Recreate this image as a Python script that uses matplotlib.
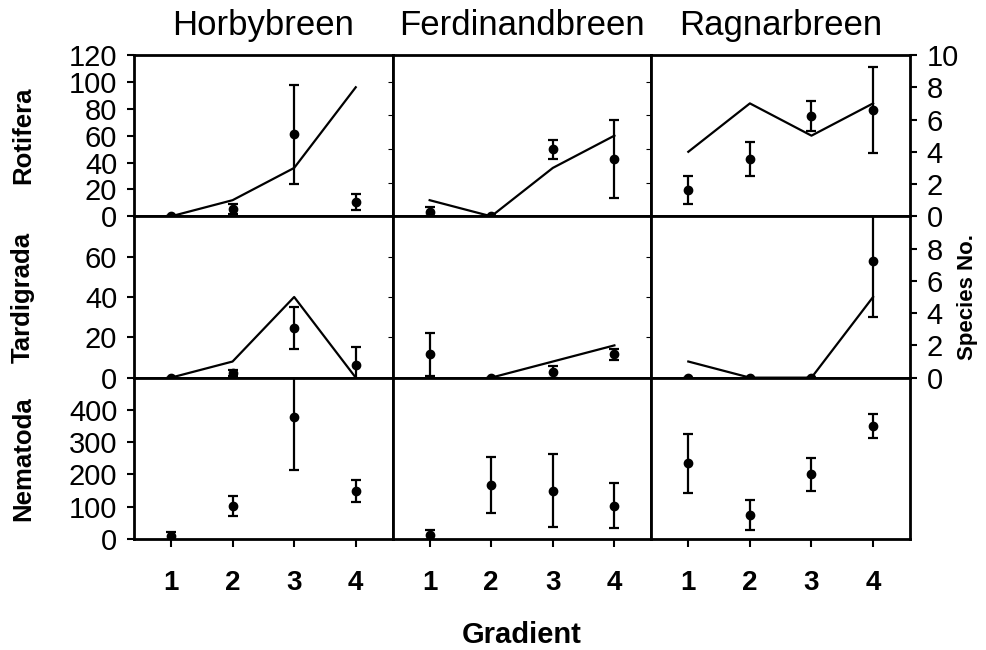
import numpy as np
import matplotlib.pyplot as plt

plt.rcParams['font.family'] = ['Liberation Sans', 'DejaVu Sans']

gradient = [1, 2, 3, 4]
glaciers = ['Horbybreen', 'Ferdinandbreen', 'Ragnarbreen']
taxa = ['Rotifera', 'Tardigrada', 'Nematoda']

# mean abundance (dots) and error per glacier
rot_mean = [[0, 5.5, 61, 10.5], [3.5, 0, 50, 42.5], [19.5, 42.5, 74.5, 79]]
rot_err = [[0, 3.5, 37, 6], [3.5, 0, 7, 29], [10.5, 12.5, 11, 32]]
tar_mean = [[0, 2.5, 24.5, 6.5], [11.5, 0, 3, 11.5], [0, 0, 0, 58]]
tar_err = [[0, 1.5, 10.5, 8.5], [10.5, 0, 3, 2.7], [0, 0, 0, 28]]
nem_mean = [[8, 103, 378, 150], [12, 168, 150, 103], [234, 75, 200, 350]]
nem_err = [[14, 31, 163, 34], [15, 87, 113, 70], [91, 46, 51, 38]]

# species number (line, right axis)
rot_species = [[0, 1, 3, 8], [1, 0, 3, 5], [4, 7, 5, 7]]
tar_species = [[0, 1, 5, 0], [np.nan, 0, 1, 2], [1, 0, 0, 5]]

means = [rot_mean, tar_mean, nem_mean]
errs = [rot_err, tar_err, nem_err]
species = [rot_species, tar_species, None]
ytop = [120, 80, 500]
yticks = [[0, 20, 40, 60, 80, 100, 120], [0, 20, 40, 60], [0, 100, 200, 300, 400]]
sp_ticks = [[0, 2, 4, 6, 8, 10], [0, 2, 4, 6, 8]]

fig, axes = plt.subplots(3, 3, figsize=(9.87, 6.5), dpi=100, sharex=True)
fig.subplots_adjust(left=0.1358, right=0.922, top=0.9154, bottom=0.1708,
                    wspace=0, hspace=0)

for r in range(3):
    for c in range(3):
        ax = axes[r, c]
        ax.errorbar(gradient, means[r][c], yerr=errs[r][c], fmt='o', color='black',
                    ms=6, capsize=3.6, elinewidth=1.6, capthick=1.6)
        ax.set_xlim(0.4, 4.6)
        ax.set_ylim(0, ytop[r])
        for s in ax.spines.values():
            s.set_linewidth(2)
        if c == 0:
            ax.set_yticks(yticks[r])
            ax.tick_params(axis='y', direction='out', length=5, width=1.5,
                           labelsize=21, pad=7)
        else:
            ax.tick_params(axis='y', left=False, labelleft=False)
        if r == 2:
            ax.set_xticks(gradient)
            ax.tick_params(axis='x', direction='out', length=6, width=1.5,
                           labelsize=20, pad=16)
            for lab in ax.get_xticklabels():
                lab.set_fontweight('bold')
        else:
            ax.tick_params(axis='x', bottom=False, labelbottom=False)

        if species[r] is not None:
            tw = ax.twinx()
            tw.plot(gradient, species[r][c], color='black', lw=1.6)
            tw.set_ylim(0, 10)
            for s in tw.spines.values():
                s.set_visible(False)
            if c == 2:
                tw.set_yticks(sp_ticks[r])
                tw.tick_params(axis='y', direction='out', length=5, width=1.5,
                               labelsize=21, pad=7)
            else:
                tw.set_yticks([])
        elif c == 2:
            ax.tick_params(axis='y', right=False, labelright=False)

for c in range(3):
    pos = axes[0, c].get_position()
    fig.text((pos.x0 + pos.x1) / 2, 1 - 35 / 650, glaciers[c], ha='center',
             va='baseline', fontsize=25)

for r in range(3):
    pos = axes[r, 0].get_position()
    fig.text(23 / 987, (pos.y0 + pos.y1) / 2, taxa[r], rotation=90, ha='center',
             va='center', fontsize=18.5, fontweight='bold')

pos = axes[1, 2].get_position()
fig.text(968 / 987, (pos.y0 + pos.y1) / 2, 'Species No.', rotation=90, ha='center',
         va='center', fontsize=16, fontweight='bold')

fig.text(0.5 * (axes[2, 0].get_position().x0 + axes[2, 2].get_position().x1),
         1 - 635 / 650, 'Gradient', ha='center', va='center', fontsize=21,
         fontweight='bold')

fig.savefig('out.png', dpi=100)
